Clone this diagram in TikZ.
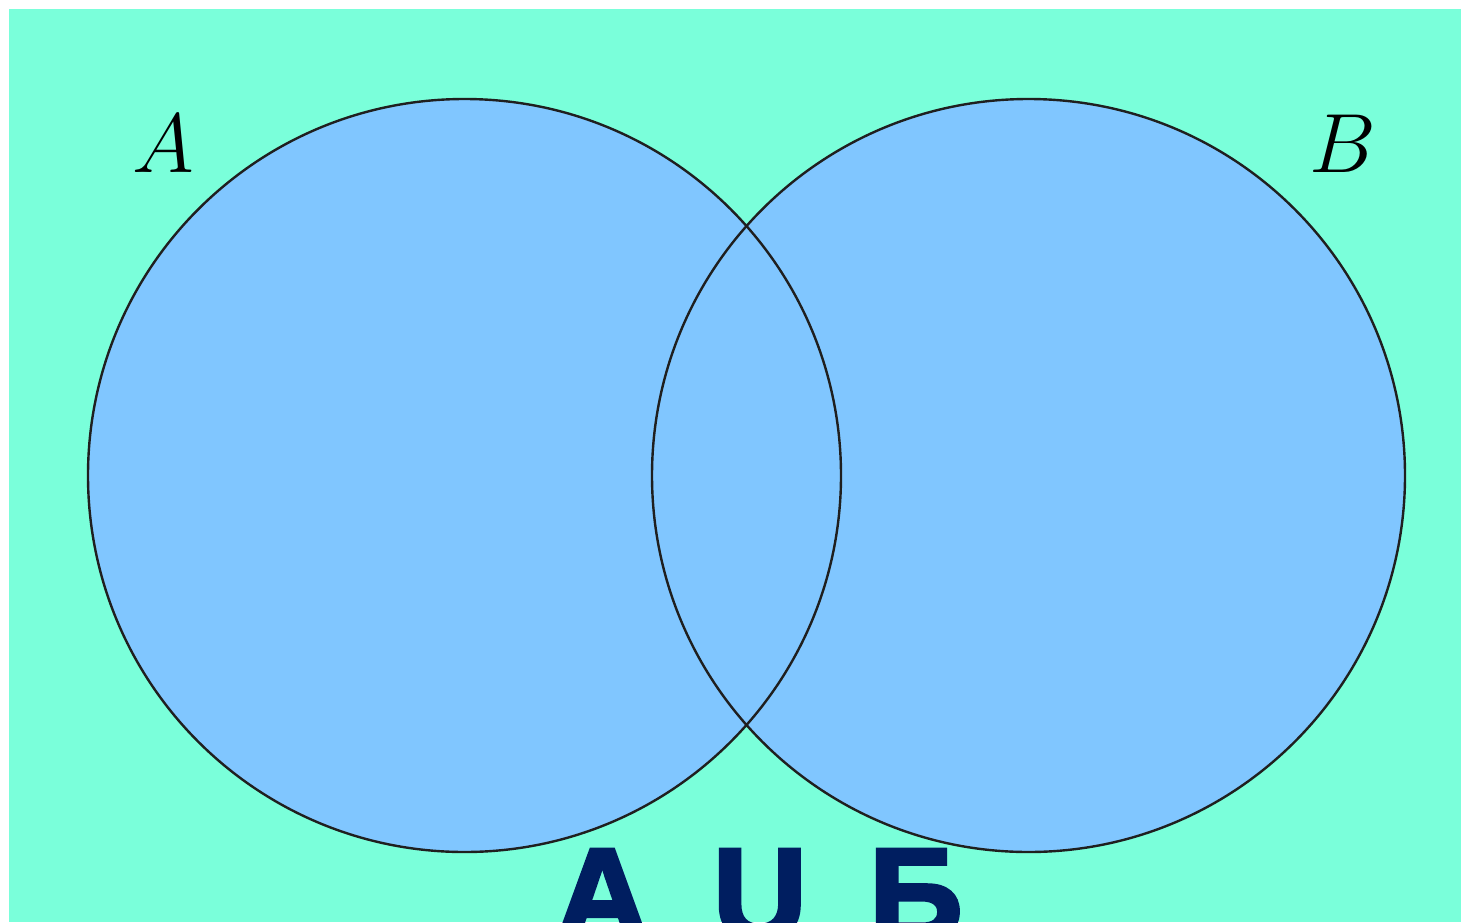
\RequirePackage{fix-cm}
\documentclass[tikz,border=0pt]{standalone}
\usepackage{fontspec}
\newfontfamily\unionfont[FakeBold=3]{Liberation Sans Bold}
\definecolor{bgaqua}{HTML}{7AFFDA}
\definecolor{setblue}{HTML}{80C6FF}
\definecolor{navy}{HTML}{001E60}
\begin{document}
\begin{tikzpicture}[x=0.5pt,y=-0.5pt,
  setline/.style={line width=1.2pt,draw=black!88},
  setname/.style={font=\fontsize{42}{50}\selectfont,inner sep=0pt}]
\useasboundingbox (0,0) rectangle (1461,922);
\fill[bgaqua] (9,9) rectangle (1461,922);
% centres of the two sets
\coordinate (ca) at (464.5,475.5);
\coordinate (cb) at (1028.5,475.5);
\fill[setblue] (ca) circle[radius=188.25pt];
\fill[setblue] (cb) circle[radius=188.25pt];
\draw[setline] (ca) circle[radius=188.25pt];
\draw[setline] (cb) circle[radius=188.25pt];
% names of the sets
\node[setname,anchor=base] (labA) at (163,172) {$A$};
\node[setname,anchor=base] (labB) at (1343,172) {$B$};
\node[font=\unionfont\fontsize{65}{70}\selectfont,text=navy,anchor=base,inner sep=0pt] (union) at (759,939) {А\hspace{0.49em}U\hspace{0.48em}Б};
\end{tikzpicture}
\end{document}
